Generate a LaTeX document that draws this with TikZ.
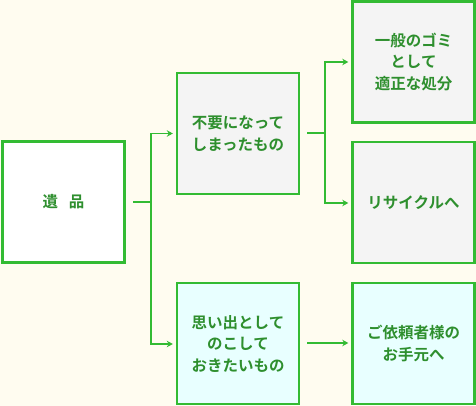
\documentclass[tikz,border=0pt]{standalone}
\usepackage{fontspec}
\newfontfamily\jp{Noto Sans CJK JP}[BoldFont={Noto Sans CJK JP Bold}]
\usetikzlibrary{arrows.meta}
\definecolor{bg}{HTML}{FFFCF0}
\definecolor{bd}{HTML}{33BB33}
\definecolor{tx}{HTML}{2E8F2E}
\definecolor{gr}{HTML}{F4F4F4}
\definecolor{cy}{HTML}{E8FFFF}
\tikzset{
  box/.style={draw=bd, line width=2.4pt, minimum width=122pt, minimum height=121pt,
    inner sep=0pt, align=center, text=tx, font=\jp\bfseries\fontsize{15.5pt}{21.5pt}\selectfont},
  conn/.style={draw=bd, line width=1.8pt},
  arr/.style={conn, -{Stealth[length=6pt,width=6.5pt]}}
}
\begin{document}
\begin{tikzpicture}[x=1pt,y=-1pt]
\fill[bg] (0,0) rectangle (476,406);
\useasboundingbox (0,0) rectangle (476,406);
\node[box, fill=white] (a) at (63.5,202) {遺\hspace{11pt}品};
\node[box, fill=gr] (b) at (238,133.5) {不要になって\\しまったもの};
\node[box, fill=cy] (c) at (238,343.5) {思い出として\\のこして\\おきたいもの};
\node[box, fill=gr] (d) at (413.5,62) {一般のゴミ\\として\\適正な処分};
\node[box, fill=gr] (e) at (413.5,202.5) {リサイクルへ};
\node[box, fill=cy] (f) at (413.5,343.5) {ご依頼者様の\\お手元へ};
\coordinate (a1) at (133,202);
\coordinate (j1) at (151,202);
\coordinate (b1) at (307,133);
\coordinate (j2) at (325,133);
\coordinate (c1) at (307,343);
\draw[conn] (a1) -- (j1);
\draw[arr] (j1) |- ([xshift=-3pt]b.west);
\draw[arr] (j1) |- ([xshift=-3pt,yshift=-0.5pt]c.west);
\draw[conn] (b1) -- (j2);
\draw[arr] (j2) |- ([xshift=-3pt]d.west);
\draw[arr] (j2) |- ([xshift=-3pt,yshift=-0.5pt]e.west);
\draw[arr] (c1) -- ([xshift=-3pt]c1 -| f.west);
\end{tikzpicture}
\end{document}
